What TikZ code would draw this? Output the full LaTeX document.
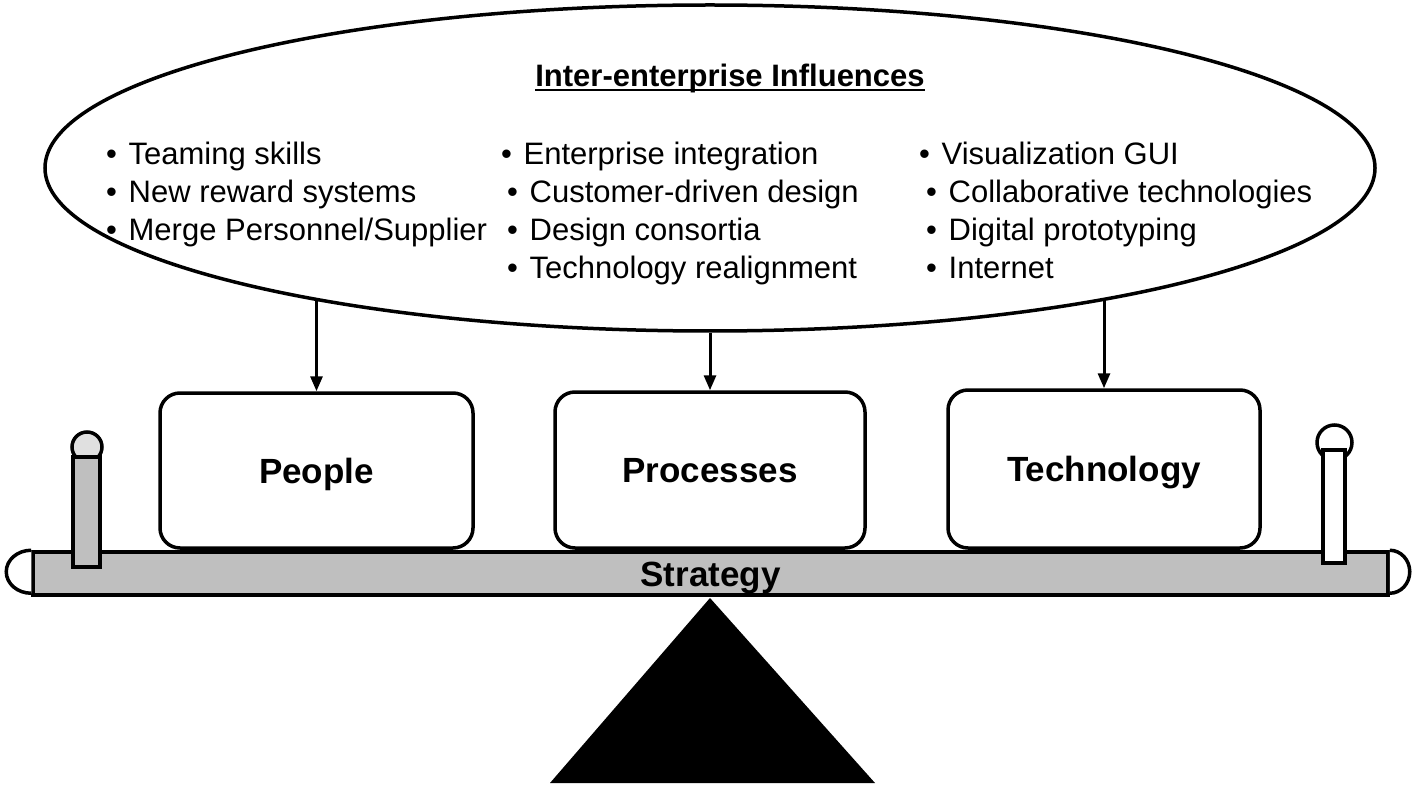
\documentclass[tikz,border=0pt]{standalone}
\usepackage{fontspec}
\setmainfont{Liberation Sans}
\usetikzlibrary{shapes.geometric,arrows.meta}
\newcommand{\bl}{•\hspace{3pt} }
\begin{document}
\begin{tikzpicture}[x=1pt,y=-1pt,
  bul/.style={anchor=base west, inner sep=0pt, font=\fontsize{31}{37}\selectfont},
  box/.style={draw, line width=3.5pt, rounded corners=20pt, fill=white, font=\fontsize{35}{42}\selectfont\bfseries, text height=25pt, text depth=0pt, inner sep=0pt},
  arr/.style={line width=3pt, -{Triangle[length=15pt,width=12pt]}},
  heavy/.style={draw, line width=3.5pt},
  stip/.style={fill=black!25}
]
\useasboundingbox (0,0) rectangle (1419,786);

% influences ellipse
\node[heavy, ellipse, minimum width=1330pt, minimum height=326pt, inner sep=0pt] (inf) at (710,168) {};
\node[anchor=base, inner sep=0pt, font=\fontsize{31}{37}\selectfont\bfseries] (title) at (730,87) {Inter-enterprise Influences};
\draw[line width=2pt] ([yshift=-3pt]title.base west) -- ([yshift=-3pt]title.base east);

\node[bul] (b11) at (106,165) {\bl Teaming skills};
\node[bul] (b12) at (106,203) {\bl New reward systems};
\node[bul] (b13) at (106,241) {\bl Merge Personnel/Supplier};

\node[bul] (b21) at (501,165) {\bl Enterprise integration};
\node[bul] (b22) at (507,203) {\bl Customer-driven design};
\node[bul] (b23) at (507,241) {\bl Design consortia};
\node[bul] (b24) at (507,279) {\bl Technology realignment};

\node[bul] (b31) at (919,165) {\bl Visualization GUI};
\node[bul] (b32) at (926,203) {\bl Collaborative technologies};
\node[bul] (b33) at (926,241) {\bl Digital prototyping};
\node[bul] (b34) at (926,279) {\bl Internet};

% beam
\node[heavy, stip, minimum width=1355pt, minimum height=43pt, inner sep=0pt,
      font=\fontsize{35}{42}\selectfont\bfseries, text height=25pt, text depth=0pt] (beam) at (710.5,573.5) {Strategy};
\draw[line width=3.5pt, fill=white] (beam.north west) arc[start angle=90, end angle=270, x radius=25pt, y radius=21.5pt];
\draw[line width=3.5pt, fill=white] (beam.north east) arc[start angle=90, end angle=-90, x radius=20pt, y radius=21.5pt];

% posts
\node[heavy, circle, fill=black!12, minimum size=30pt, inner sep=0pt] (lknob) at (87,447) {};
\node[heavy, stip, minimum width=27pt, minimum height=110pt, inner sep=0pt] (lpost) at (86.5,512) {};
\node[heavy, circle, fill=white, minimum size=35pt, inner sep=0pt] (rknob) at (1334.5,442.5) {};
\node[heavy, fill=white, minimum width=22pt, minimum height=113pt, inner sep=0pt] (rpost) at (1334,506.5) {};

% fulcrum
\coordinate (apex) at (710,598);
\fill (apex) -- (875,783) -- (550,783) -- cycle;

% boxes
\node[box, minimum width=313pt, minimum height=155pt] (people) at (316.5,470.5) {People};
\node[box, minimum width=310pt, minimum height=156pt] (proc) at (710,470) {Processes};
\node[box, minimum width=312pt, minimum height=158pt] (tech) at (1104,469) {Technology};

% arrows
\coordinate (a1) at (316.5,299);
\coordinate (a3) at (1104,298);
\draw[arr] (a1) -- (people.north);
\draw[arr] (inf.south) -- (proc.north);
\draw[arr] (a3) -- (tech.north);
\end{tikzpicture}
\end{document}
